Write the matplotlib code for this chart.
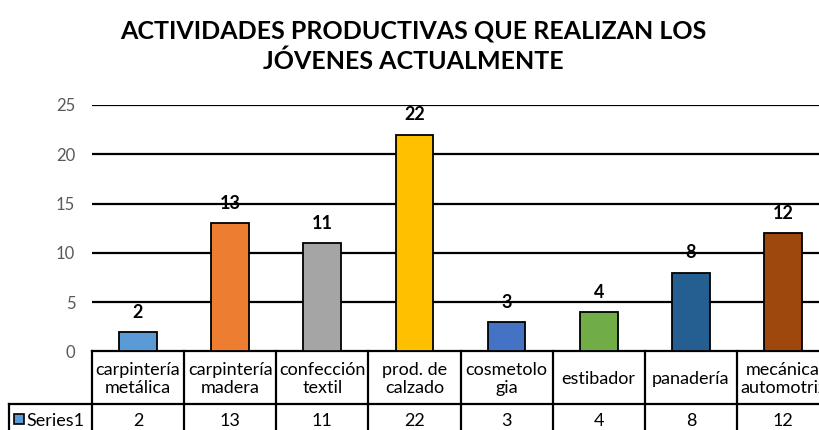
import matplotlib.pyplot as plt
import matplotlib.transforms as mtransforms
from matplotlib.patches import Rectangle

categories = ["carpintería\nmetálica", "carpintería\nmadera", "confección\ntextil",
              "prod. de\ncalzado", "cosmetolo\ngia", "estibador", "panadería",
              "mecánica\nautomotriz"]
values = [2, 13, 11, 22, 3, 4, 8, 12]
colors = ["#5B9BD5", "#ED7D31", "#A5A5A5", "#FFC000", "#4472C4", "#70AD47",
          "#255E91", "#9E480E"]
series_name = "Series1"
yticks = [0, 5, 10, 15, 20, 25]

plt.rcParams["font.family"] = ["Lato", "DejaVu Sans"]

fig = plt.figure(figsize=(8.19, 4.30), dpi=100)
ax = fig.add_axes([0.1123, 0.1826, 0.900, 0.5733])

x = list(range(len(values)))
ax.bar(x, values, width=0.41, color=colors, edgecolor="black", linewidth=1.3, zorder=3)
for xi, v in zip(x, values):
    ax.annotate(str(v), (xi, v), xytext=(0, 8), textcoords="offset points",
                ha="center", va="bottom", fontsize=13, fontweight="bold")

ax.set_xlim(-0.5, len(values) - 0.5)
ax.set_ylim(0, 25)
ax.set_yticks(yticks)
ax.tick_params(axis="y", length=0, pad=12, labelsize=12, labelcolor="#595959")
ax.set_xticks([])
for s in ax.spines.values():
    s.set_visible(False)
for t in yticks[1:]:
    ax.axhline(t, color="black", linewidth=1.6, zorder=1)

# data table under the plot
trans = mtransforms.blended_transform_factory(ax.transData, ax.transAxes)
row1 = -0.213
row2 = -0.33
left_cell = -1.40
lw = 1.6
ax.plot([-0.5, len(values) - 0.5], [0, 0], transform=trans, color="black",
        lw=lw, clip_on=False)
ax.plot([left_cell, len(values) - 0.5], [row1, row1], transform=trans, color="black",
        lw=lw, clip_on=False)
for k in range(len(values) + 1):
    ax.plot([k - 0.5, k - 0.5], [0, row2], transform=trans, color="black",
            lw=lw, clip_on=False)
ax.plot([left_cell, left_cell], [row1, row2], transform=trans, color="black",
        lw=lw, clip_on=False)
for xi, cat, v in zip(x, categories, values):
    ax.text(xi, row1 / 2 - 0.005, cat, transform=trans, ha="center", va="center",
            fontsize=13, linespacing=1.22, clip_on=False)
    ax.text(xi, (row1 + row2) / 2 - 0.01, str(v), transform=trans, ha="center",
            va="center", fontsize=13, clip_on=False)
ax.add_patch(Rectangle((left_cell + 0.05, row1 - 0.08), 0.11, 0.04, transform=trans,
                       facecolor=colors[0], edgecolor="black", lw=1.2, clip_on=False))
ax.text(left_cell + 0.19, (row1 + row2) / 2 - 0.01, series_name, transform=trans,
        ha="left", va="center", fontsize=13, clip_on=False)

fig.text(0.505, 0.893, "ACTIVIDADES PRODUCTIVAS QUE REALIZAN LOS\nJÓVENES ACTUALMENTE",
         ha="center", va="center", fontsize=18, fontweight="bold", linespacing=1.37)

fig.savefig("out.png", dpi=100)
